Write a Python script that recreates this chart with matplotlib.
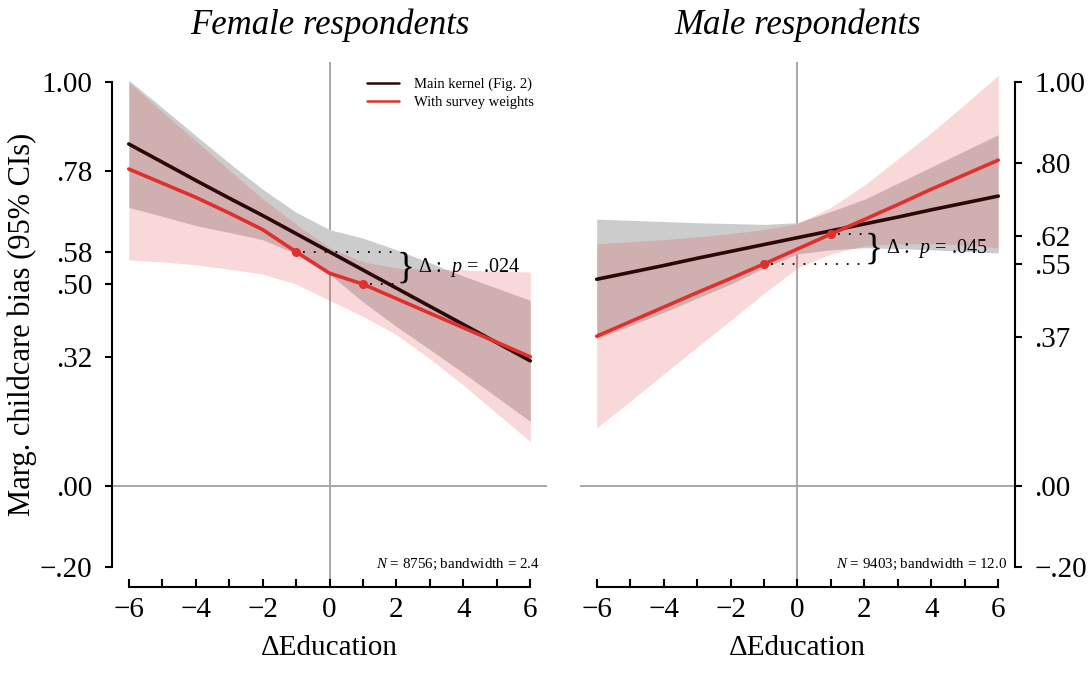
import matplotlib
matplotlib.use("Agg")
import matplotlib.pyplot as plt

plt.rcParams["font.family"] = ["Liberation Serif", "DejaVu Serif"]
plt.rcParams["mathtext.fontset"] = "custom"
plt.rcParams["mathtext.rm"] = "Liberation Serif"
plt.rcParams["mathtext.it"] = "Liberation Serif:italic"

# Values (x = ΔEducation)
x_grid = [-6, -5, -4, -3, -2, -1, 0, 1, 2, 3, 4, 5, 6]

# Female respondents
fem_main = [0.847, 0.802, 0.757, 0.713, 0.670, 0.625, 0.580, 0.535, 0.490, 0.445, 0.400, 0.355, 0.310]
fem_main_lo = [0.690, 0.668, 0.645, 0.628, 0.610, 0.575, 0.525, 0.456, 0.395, 0.338, 0.280, 0.220, 0.160]
fem_main_hi = [1.005, 0.937, 0.868, 0.800, 0.735, 0.678, 0.635, 0.614, 0.585, 0.553, 0.520, 0.490, 0.460]
fem_wt = [0.785, 0.750, 0.715, 0.676, 0.635, 0.580, 0.527, 0.500, 0.464, 0.428, 0.392, 0.356, 0.320]
fem_wt_lo = [0.560, 0.555, 0.548, 0.537, 0.525, 0.500, 0.460, 0.420, 0.375, 0.315, 0.250, 0.180, 0.110]
fem_wt_hi = [1.000, 0.927, 0.855, 0.782, 0.712, 0.648, 0.590, 0.555, 0.540, 0.537, 0.535, 0.532, 0.530]

# Male respondents
male_main = [0.512, 0.529, 0.546, 0.564, 0.581, 0.598, 0.615, 0.632, 0.649, 0.666, 0.684, 0.701, 0.718]
male_main_lo = [0.365, 0.397, 0.430, 0.465, 0.500, 0.540, 0.575, 0.585, 0.590, 0.588, 0.585, 0.581, 0.577]
male_main_hi = [0.661, 0.658, 0.655, 0.652, 0.650, 0.648, 0.652, 0.680, 0.710, 0.750, 0.790, 0.830, 0.870]
male_wt = [0.371, 0.407, 0.443, 0.479, 0.514, 0.550, 0.587, 0.624, 0.660, 0.697, 0.735, 0.771, 0.807]
male_wt_lo = [0.144, 0.210, 0.277, 0.344, 0.410, 0.477, 0.540, 0.575, 0.595, 0.600, 0.600, 0.597, 0.590]
male_wt_hi = [0.600, 0.605, 0.610, 0.617, 0.625, 0.635, 0.650, 0.690, 0.745, 0.810, 0.875, 0.945, 1.017]

fem_ticks = [1.00, 0.78, 0.58, 0.50, 0.32, 0.00, -0.20]
fem_ticklabels = ["1.00", ".78", ".58", ".50", ".32", ".00", "\u2212.20"]
male_ticks = [1.00, 0.80, 0.62, 0.55, 0.37, 0.00, -0.20]
male_ticklabels = ["1.00", ".80", ".62", ".55", ".37", ".00", "\u2212.20"]

titles = ["Female respondents", "Male respondents"]
notes = ["$N$ = 8756; bandwidth = 2.4", "$N$ = 9403; bandwidth = 12.0"]
pvals = ["\u0394 :  $p$ = .024", "\u0394 :  $p$ = .045"]

BLACK = "#2a0808"
RED = "#e0302e"

fig = plt.figure(figsize=(10.91, 6.92), dpi=100)
ax_f = fig.add_axes([0.1027, 0.1517, 0.3987, 0.7587])
ax_m = fig.add_axes([0.5316, 0.1517, 0.3987, 0.7587])

panels = [
    (ax_f, fem_main, fem_main_lo, fem_main_hi, fem_wt, fem_wt_lo, fem_wt_hi,
     fem_ticks, fem_ticklabels, "left"),
    (ax_m, male_main, male_main_lo, male_main_hi, male_wt, male_wt_lo, male_wt_hi,
     male_ticks, male_ticklabels, "right"),
]

for i, (ax, mn, mlo, mhi, wt, wlo, whi, yt, ytl, side) in enumerate(panels):
    ax.set_xlim(-6.5, 6.5)
    ax.set_ylim(-0.25, 1.05)
    ax.axvline(0, color="#a0a0a0", lw=1.3, zorder=1)
    ax.axhline(0, color="#a0a0a0", lw=1.3, zorder=1)

    ax.fill_between(x_grid, mlo, mhi, color="#cccccc", lw=0, zorder=2)
    ax.fill_between(x_grid, wlo, whi, color="#e03c3c", alpha=0.2, lw=0, zorder=3)
    ax.plot(x_grid, mn, color=BLACK, lw=2.6, solid_capstyle="round", zorder=5,
            label="Main kernel (Fig. 2)")
    ax.plot(x_grid, wt, color=RED, lw=2.6, solid_capstyle="round", zorder=6,
            label="With survey weights")

    # points at ΔEducation = -1 and +1 on the weighted curve
    lo_val = wt[x_grid.index(-1)]
    hi_val = wt[x_grid.index(1)]
    ax.plot([-1, 1], [lo_val, hi_val], "o", color=RED, ms=5.5, zorder=7)
    ax.plot([-0.8, 1.97], [lo_val, lo_val], color="black", lw=1.3,
            ls=(0, (1, 5)), zorder=8)
    ax.plot([1.2, 1.97], [hi_val, hi_val], color="black", lw=1.3,
            ls=(0, (1, 5)), zorder=8)
    mid = (lo_val + hi_val) / 2
    ax.text(2.0, mid, "}", fontsize=27, ha="left", va="center", zorder=9)
    ax.text(2.65, mid, pvals[i], fontsize=14.5, ha="left", va="center", zorder=9)

    ax.text(6.27, -0.212, notes[i], fontsize=10.8, ha="right", va="bottom")
    fig.text(0.1027 + 0.3987 / 2 + i * (0.5316 - 0.1027), 1 - 25 / 692,
             titles[i], fontsize=25, style="italic", ha="center", va="center")

    # axes styling
    for s in ["top", "left", "right"]:
        ax.spines[s].set_visible(False)
    ax.spines[side].set_visible(True)
    ax.spines[side].set_bounds(-0.2, 1.0)
    ax.spines["bottom"].set_bounds(-6, 6)
    for s in ["bottom", side]:
        ax.spines[s].set_linewidth(1.5)

    ax.set_xticks([-6, -4, -2, 0, 2, 4, 6])
    ax.set_xticklabels(["\u22126", "\u22124", "\u22122", "0", "2", "4", "6"])
    ax.set_xticks([-5, -3, -1, 1, 3, 5], minor=True)
    ax.tick_params(axis="x", which="both", direction="in", length=6, width=1.5,
                   labelsize=21, pad=7)
    ax.set_yticks(yt)
    ax.set_yticklabels(ytl)
    if side == "left":
        ax.tick_params(axis="y", direction="out", length=5, width=1.5,
                       labelsize=21, pad=9, left=True, right=False,
                       labelleft=True, labelright=False)
    else:
        ax.tick_params(axis="y", direction="out", length=5, width=1.5,
                       labelsize=21, pad=9, left=False, right=True,
                       labelleft=False, labelright=True)
    ax.set_xlabel("\u0394Education", fontsize=21, labelpad=9)

ax_f.set_ylabel("Marg. childcare bias (95% CIs)", fontsize=22, labelpad=2)
leg = ax_f.legend(loc="upper right", bbox_to_anchor=(1.0, 0.995), frameon=False,
                  fontsize=10.5, handlelength=2.2, handletextpad=1.0,
                  labelspacing=0.3)
for h in leg.legend_handles:
    h.set_linewidth(1.8)

fig.savefig("out.png", dpi=100)
